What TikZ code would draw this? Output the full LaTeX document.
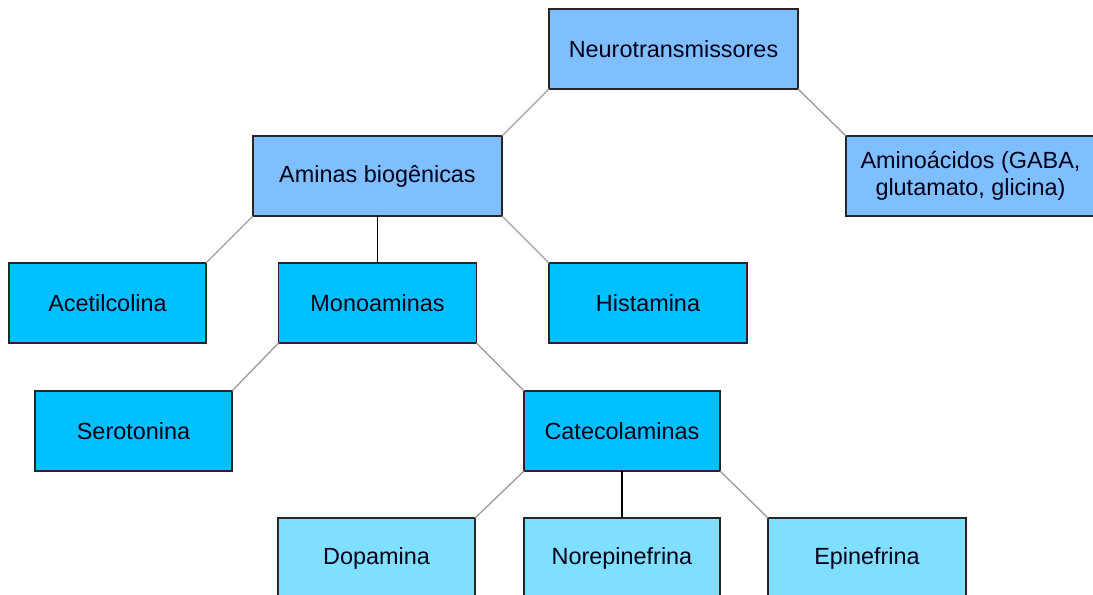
\documentclass[tikz,border=0pt]{standalone}
\usepackage{fontspec}
\setmainfont{Liberation Sans}
\begin{document}
\begin{tikzpicture}[x=1bp,y=1bp,
  box/.style={draw=black!85,line width=1.4bp,inner sep=0pt,outer sep=0pt,minimum height=80bp,align=center,font=\fontsize{23.5}{27}\selectfont,text=black!90!blue},
  lvlA/.style={box,fill=lvlAc,minimum width=249bp},
  lvlB/.style={box,fill=lvlBc},
  lvlC/.style={box,fill=lvlCc},
  diag/.style={draw=gray!75,line width=1.4bp},
  vert/.style={draw=black,line width=1.4bp}]
\definecolor{lvlAc}{HTML}{80BFFF}
\definecolor{lvlBc}{HTML}{00BFFF}
\definecolor{lvlCc}{HTML}{80DFFF}
\useasboundingbox (0,0) rectangle (1093,-595);
\clip (0,0) rectangle (1093,-595);
\node[lvlA] (neuro) at (673.5,-49) {Neurotransmissores};
\node[lvlA] (aminas) at (377.5,-176) {Aminas biogênicas};
\node[lvlA] (aminoac) at (970.5,-176) {Aminoácidos (GABA,\\glutamato, glicina)};
\node[lvlB,minimum width=197bp] (acetil) at (107.5,-303) {Acetilcolina};
\node[lvlB,minimum width=198bp] (mono) at (377.5,-303) {Monoaminas};
\node[lvlB,minimum width=198bp] (hist) at (648,-303) {Histamina};
\node[lvlB,minimum width=197bp] (sero) at (133.5,-431) {Serotonina};
\node[lvlB,minimum width=196bp] (cate) at (622,-431) {Catecolaminas};
\node[lvlC,minimum width=197bp] (dopa) at (376.5,-558) {Dopamina};
\node[lvlC,minimum width=196bp] (norep) at (622,-558) {Norepinefrina};
\node[lvlC,minimum width=198bp] (epi) at (867,-558) {Epinefrina};
\draw[diag] (neuro.south west) -- (aminas.north east);
\draw[diag] (neuro.south east) -- (aminoac.north west);
\draw[diag] (aminas.south west) -- (acetil.north east);
\draw[vert] (aminas.south) -- (mono.north);
\draw[diag] (aminas.south east) -- (hist.north west);
\draw[diag] (mono.south west) -- (sero.north east);
\draw[diag] (mono.south east) -- (cate.north west);
\draw[diag] (cate.south west) -- (dopa.north east);
\draw[vert] (cate.south) -- (norep.north);
\draw[diag] (cate.south east) -- (epi.north west);
\end{tikzpicture}
\end{document}
